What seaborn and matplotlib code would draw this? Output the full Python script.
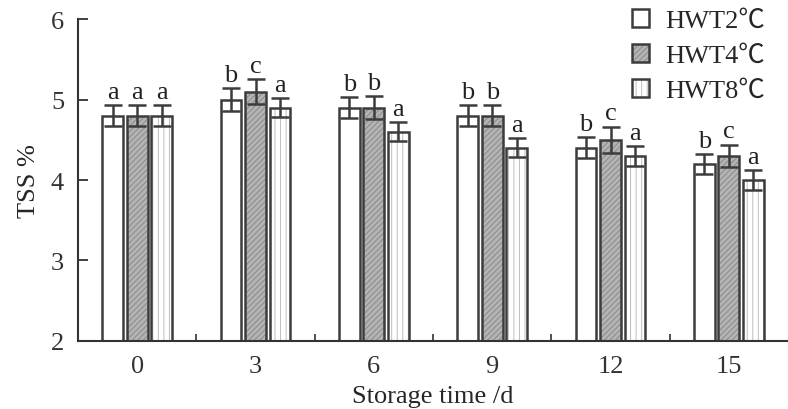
import numpy as np
import pandas as pd
import matplotlib
matplotlib.use("Agg")
import matplotlib.pyplot as plt
from matplotlib.colors import to_rgba
import seaborn as sns

# values
days = ["0", "3", "6", "9", "12", "15"]
treatments = ["HWT2℃", "HWT4℃", "HWT8℃"]
hwt2 = [4.8, 5.0, 4.9, 4.8, 4.4, 4.2]
hwt4 = [4.8, 5.1, 4.9, 4.8, 4.5, 4.3]
hwt8 = [4.8, 4.9, 4.6, 4.4, 4.3, 4.0]
err2 = [0.13, 0.14, 0.13, 0.13, 0.13, 0.12]
err4 = [0.13, 0.15, 0.14, 0.13, 0.16, 0.14]
err8 = [0.13, 0.12, 0.12, 0.12, 0.12, 0.12]
letters2 = ["a", "b", "b", "b", "b", "b"]
letters4 = ["a", "c", "b", "b", "c", "c"]
letters8 = ["a", "a", "a", "a", "a", "a"]

values = [hwt2, hwt4, hwt8]
errors = [err2, err4, err8]
letters = [letters2, letters4, letters8]

df = pd.DataFrame({
    "day": days * 3,
    "tss": hwt2 + hwt4 + hwt8,
    "trt": np.repeat(treatments, len(days)),
})

sns.set_style("ticks")
plt.rcParams["font.family"] = ["Liberation Serif", "Noto Sans CJK SC"]
plt.rcParams["font.size"] = 19
plt.rcParams["hatch.linewidth"] = 0.7

edge = "#3c3c3c"
faces = ["white", "#b4b4b4", "white"]
hatches = [None, "//////", "|||"]
hatch_cols = [edge, "#8a8a8a", "#bdbdbd"]

fig = plt.figure(figsize=(7.88, 4.10), dpi=100)
ax = fig.add_axes([0.099, 0.166, 0.901, 0.785])

sns.barplot(data=df, x="day", y="tss", hue="trt", order=days,
            hue_order=treatments, width=0.62, gap=0.15, legend=False,
            palette=faces, edgecolor=edge, linewidth=1.8, saturation=1,
            ax=ax)

bar_containers = list(ax.containers)
for i, cont in enumerate(bar_containers):
    cont.set_label(treatments[i])
    for j, p in enumerate(cont.patches):
        p.set_facecolor(faces[i])
        p.set_edgecolor(edge)
        if hatches[i]:
            p.set_hatch(hatches[i])
            p._hatch_color = to_rgba(hatch_cols[i])
            p.stale = True
        xc = p.get_x() + p.get_width() / 2
        top = p.get_height()
        ax.errorbar(xc, top, yerr=errors[i][j], fmt="none", ecolor=edge,
                    elinewidth=1.8, capsize=6.5, capthick=1.8, zorder=5)
        ax.text(xc, top + errors[i][j] + 0.03, letters[i][j],
                ha="center", va="bottom", fontsize=19, color="#222222")

ax.set_ylim(2, 6)
ax.set_xlim(-0.5, 5.5)
ax.set_yticks([2, 3, 4, 5, 6])
ax.set_xlabel("Storage time /d", fontsize=19, labelpad=6)
ax.set_ylabel("TSS %", fontsize=19, labelpad=8)

ax.tick_params(axis="y", direction="in", length=7, width=1.3, pad=10,
               colors="#333333", labelsize=19)
ax.tick_params(axis="x", which="major", length=0, pad=10, labelsize=19,
               colors="#333333")
ax.set_xticks(np.arange(0.5, 5.5, 1), minor=True)
ax.tick_params(axis="x", which="minor", direction="in", length=5, width=1.2,
               color="#333333")

for s in ["top", "right"]:
    ax.spines[s].set_visible(False)
for s in ["left", "bottom"]:
    ax.spines[s].set_color("#333333")
    ax.spines[s].set_linewidth(1.5)

ax.legend(handles=bar_containers, labels=treatments, loc="upper right",
          bbox_to_anchor=(0.99, 1.08), frameon=False, fontsize=19,
          handlelength=0.65, handleheight=0.65, handletextpad=0.6,
          labelspacing=0.45, borderaxespad=0.2)

fig.savefig("out.png", dpi=100)
